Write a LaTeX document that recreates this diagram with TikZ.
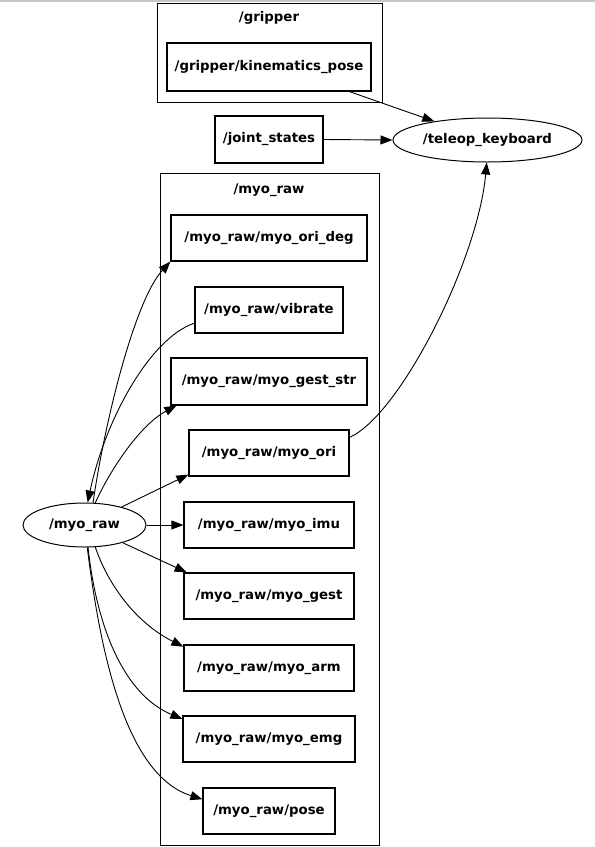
\documentclass[tikz,border=0pt]{standalone}
\usepackage{fontspec}
\setmainfont{DejaVu Sans}
\usetikzlibrary{arrows.meta,shapes.geometric,calc}
\begin{document}
\begin{tikzpicture}[x=1pt,y=-1pt,
  every node/.style={font=\fontsize{13.3}{15}\selectfont\bfseries, inner sep=0pt},
  topic/.style={draw, line width=1.2pt, rectangle, minimum height=46pt},
  nodeell/.style={draw, line width=1pt, ellipse, minimum height=44pt},
  cluster/.style={draw, line width=1pt},
  edge/.style={line width=0.9pt, -{Triangle[length=12pt,width=9pt]}},
  plain/.style={line width=0.9pt}
]
\useasboundingbox (0,0) rectangle (595,847);
\draw[gray!45, line width=1.5pt] (0,0.75) -- (595,0.75);

% clusters
\draw[cluster] (157,3) rectangle (382,102);
\node (glabel) at (269,18) {/gripper};
\draw[cluster] (160,173) rectangle (379,845);
\node (mlabel) at (269,190) {/myo\_raw};

% nodes
\node[topic, minimum width=204pt, minimum height=48pt] (kin) at (269,67) {/gripper/kinematics\_pose};
\node[topic, minimum width=108pt, minimum height=47pt] (joint) at (269,139.5) {/joint\_states};
\node[nodeell, minimum width=189pt] (teleop) at (487.5,140) {/teleop\_keyboard};

\node[topic, minimum width=196pt] (odeg) at (269,238) {/myo\_raw/myo\_ori\_deg};
\node[topic, minimum width=148pt] (vib) at (269,310) {/myo\_raw/vibrate};
\node[topic, minimum width=196pt, minimum height=47pt] (gstr) at (269,381.5) {/myo\_raw/myo\_gest\_str};
\node[topic, minimum width=160pt] (mori) at (269,453) {/myo\_raw/myo\_ori};
\node[topic, minimum width=170pt] (imu) at (269,525) {/myo\_raw/myo\_imu};
\node[topic, minimum width=170pt] (gest) at (269,596) {/myo\_raw/myo\_gest};
\node[topic, minimum width=170pt] (arm) at (269,668) {/myo\_raw/myo\_arm};
\node[topic, minimum width=172pt] (emg) at (269,739) {/myo\_raw/myo\_emg};
\node[topic, minimum width=132pt] (pose) at (269,811) {/myo\_raw/pose};

\node[nodeell, minimum width=123pt] (myoraw) at (84.5,525) {/myo\_raw};

% edges
\draw[edge] (kin.-17.5) -- (teleop);
\draw[edge] (joint.east) -- (teleop.west);
\draw[edge] (mori.11.3) .. controls (400,415) and (478,260) .. (teleop.-92);

\draw[edge] (vib.190) .. controls (150,338) and (105,420) .. (myoraw.82);
\draw[edge] (myoraw.69) .. controls (105,420) and (135,300) .. (odeg.south west);
\draw[edge] (myoraw.64.5) .. controls (110,470) and (140,425) .. ($(gstr.south west)+(6,0)$);
\draw[edge] (myoraw) -- (mori.195);
\draw[edge] (myoraw.east) -- (imu.west);
\draw[edge] (myoraw) -- (gest.164);
\draw[edge] (myoraw.-64.5) .. controls (110,590) and (140,625) .. (arm.166);
\draw[edge] (myoraw.-81) .. controls (97,630) and (125,695) .. (emg.167);
\draw[edge] (myoraw.-83.5) .. controls (100,650) and (125,775) .. (pose.170.5);
\end{tikzpicture}
\end{document}
